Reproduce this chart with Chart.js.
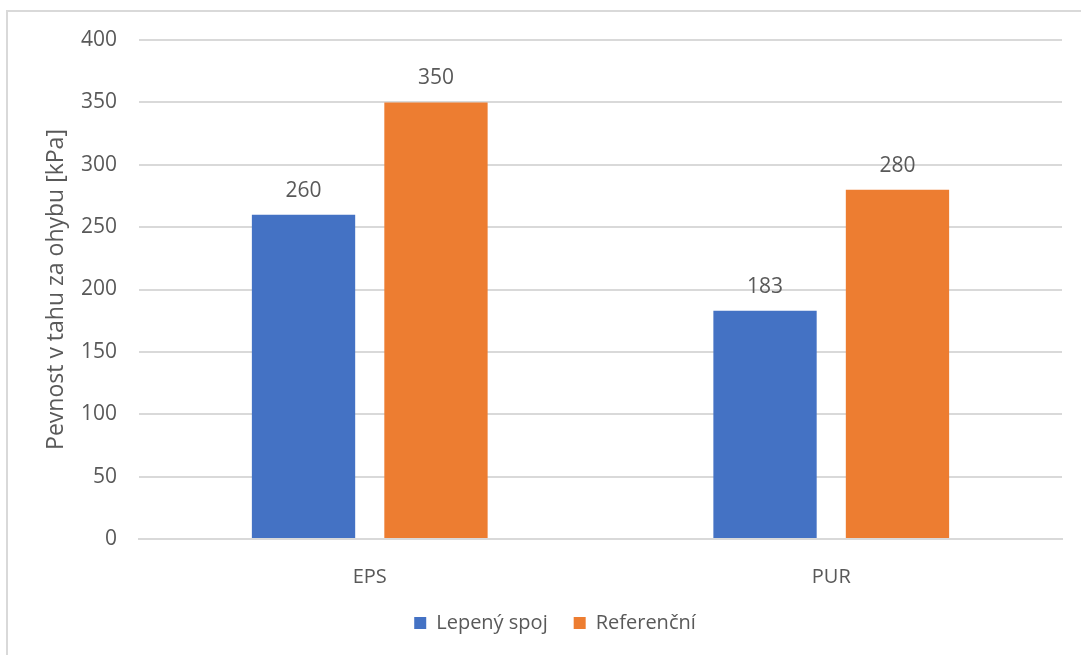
<!DOCTYPE html>
<html>
<head>
<meta charset="utf-8">
<script src="https://cdn.jsdelivr.net/npm/chart.js@4"></script>
<style>
  html, body { margin: 0; padding: 0; background: #fff; }
  #frame { position: absolute; left: 6px; top: 10px; width: 1200px; height: 800px;
           border-left: 2px solid #d9d9d9; border-top: 2px solid #d9d9d9; }
  #wrap { position: absolute; left: 0; top: 0; width: 1081px; height: 655px; }
</style>
</head>
<body>
<div id="frame"></div>
<div id="wrap"><canvas id="chart" width="1081" height="655"></canvas></div>
<script>
const categories = ["EPS", "PUR"];
const lepenySpoj = [260, 183];
const referencni = [350, 280];
const yTicks = [0, 50, 100, 150, 200, 250, 300, 350, 400];

const textColor = "#595959";
const fontFamily = "'Open Sans', sans-serif";

// popisky hodnot nad sloupci
const valueLabels = {
  id: "valueLabels",
  afterDatasetsDraw(chart) {
    const { ctx } = chart;
    ctx.save();
    ctx.fillStyle = textColor;
    ctx.font = "21px " + fontFamily;
    ctx.textAlign = "center";
    ctx.textBaseline = "middle";
    chart.data.datasets.forEach((ds, i) => {
      chart.getDatasetMeta(i).data.forEach((bar, j) => {
        ctx.fillText(ds.data[j], bar.x, bar.y - 24);
      });
    });
    ctx.restore();
  }
};

new Chart(document.getElementById("chart").getContext("2d"), {
  type: "bar",
  data: {
    labels: categories,
    datasets: [
      { label: "Lepený spoj", data: lepenySpoj, backgroundColor: "#4472C4" },
      { label: "Referenční", data: referencni, backgroundColor: "#ED7D31" }
    ]
  },
  options: {
    responsive: false,
    animation: false,
    categoryPercentage: 0.574,
    barPercentage: 0.78,
    layout: { padding: { left: 48, right: 19, top: 40, bottom: 12 } },
    plugins: {
      legend: {
        position: "bottom",
        labels: {
          color: textColor,
          font: { family: fontFamily, size: 20 },
          boxWidth: 12,
          boxHeight: 12,
          padding: 26
        }
      },
      tooltip: { enabled: false }
    },
    scales: {
      x: {
        grid: { display: false },
        border: { color: "#d9d9d9", width: 2 },
        ticks: { color: textColor, font: { family: fontFamily, size: 20 }, padding: 18 },
        afterFit: s => { s.height = 48; }
      },
      y: {
        min: 0,
        max: 400,
        afterBuildTicks: s => { s.ticks = yTicks.map(v => ({ value: v })); },
        grid: { color: "#d9d9d9", lineWidth: 2, drawTicks: false },
        border: { display: false },
        ticks: { color: textColor, font: { family: fontFamily, size: 21 }, padding: 22 },
        title: {
          display: true,
          text: "Pevnost v tahu za ohybu [kPa]",
          color: textColor,
          font: { family: fontFamily, size: 23 },
          padding: { top: -5, bottom: 0 }
        },
        afterFit: s => { s.width = 91; }
      }
    }
  },
  plugins: [valueLabels]
});
</script>
</body>
</html>
